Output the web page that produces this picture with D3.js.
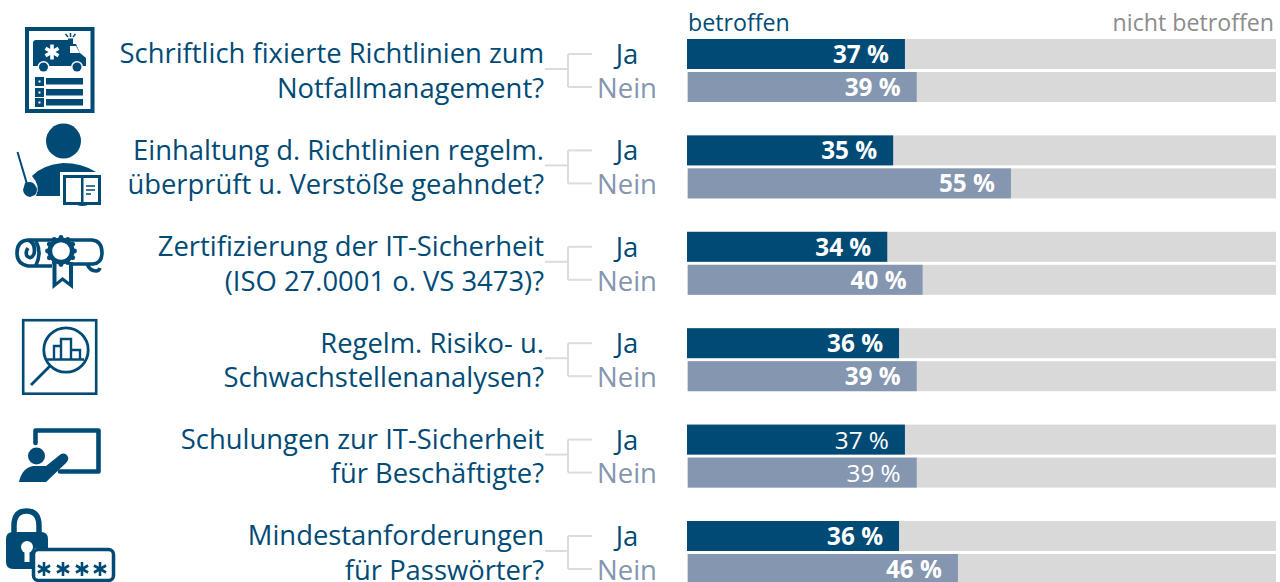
<!DOCTYPE html>
<html><head><meta charset="utf-8">
<script src="https://cdn.jsdelivr.net/npm/d3@7"></script>
<style>html,body{margin:0;padding:0;background:#fff;overflow:hidden}svg{display:block}text{font-family:"Open Sans",sans-serif}</style>
</head><body><svg id="c" width="1280" height="582"></svg>
<script>
const questions = [
  ["Schriftlich fixierte Richtlinien zum","Notfallmanagement?"],
  ["Einhaltung d. Richtlinien regelm.","überprüft u. Verstöße geahndet?"],
  ["Zertifizierung der IT-Sicherheit","(ISO 27.0001 o. VS 3473)?"],
  ["Regelm. Risiko- u.","Schwachstellenanalysen?"],
  ["Schulungen zur IT-Sicherheit","für Beschäftigte?"],
  ["Mindestanforderungen","für Passwörter?"]
];
const answers = ["Ja","Nein"];
const jaValues = [37,35,34,36,37,36];
const neinValues = [39,55,40,39,39,46];
const boldLabels = [true,true,true,true,false,true];
const legendLabels = ["betroffen","nicht betroffen"];

const DARK="#004b76", MID="#8496b0", GREY="#d9d9d9", LINE="#dcdcdc";
const svg=d3.select("#c");
const x=d3.scaleLinear().domain([0,100]).range([687,1276]);
const band=d3.scaleBand().domain(d3.range(questions.length)).range([39,39+96.4*6]);
const rowH=30, nGap=33;

svg.append("text").attr("x",688).attr("y",30.5).attr("font-size",23.2).attr("fill",DARK).text(legendLabels[0]);
svg.append("text").attr("x",1274).attr("y",30.5).attr("text-anchor","end").attr("font-size",23.2).attr("fill","#8c8c8c").text(legendLabels[1]);

questions.forEach((q,i)=>{
  const y0=band(i);
  const g=svg.append("g");
  q.forEach((t,k)=>g.append("text").attr("x",544).attr("y",y0+24.4+k*34.3).attr("text-anchor","end").attr("font-size",27.4).attr("fill",DARK).text(t));
  const ln=[[545,y0+30,568,y0+30],[568,y0+15,568,y0+48],[568,y0+15,592,y0+15],[568,y0+48,592,y0+48]];
  ln.forEach(l=>g.append("line").attr("x1",l[0]).attr("y1",l[1]).attr("x2",l[2]).attr("y2",l[3]).attr("stroke",LINE).attr("stroke-width",2));
  g.append("text").attr("x",627).attr("y",y0+24.9).attr("text-anchor","middle").attr("font-size",27.5).attr("fill",DARK).text(answers[0]);
  g.append("text").attr("x",627).attr("y",y0+58.8).attr("text-anchor","middle").attr("font-size",27.5).attr("fill",MID).text(answers[1]);
  [[jaValues[i],DARK,y0],[neinValues[i],MID,y0+nGap]].forEach(([v,c,y])=>{
    g.append("rect").attr("x",x(0)).attr("y",y).attr("width",x(100)-x(0)).attr("height",rowH).attr("fill",GREY);
    g.append("rect").attr("x",x(0)+(c===MID?1:0)).attr("y",y).attr("width",x(v)-x(0)-(c===MID?1:0)).attr("height",rowH).attr("fill",c);
    g.append("text").attr("x",x(v)-16).attr("y",y+24).attr("text-anchor","end").attr("font-size",24.3)
      .attr("font-weight",boldLabels[i]?700:400).attr("fill","#fff").text(v+" %");
  });
});

// icons (decorative pictograms)
const ic=svg.append("g");
const P=(d,extra={})=>{const p=ic.append("path").attr("d",d).attr("fill",DARK);for(const k in extra)p.attr(k,extra[k]);return p;};
const S=(d,w,cap="butt")=>ic.append("path").attr("d",d).attr("fill","none").attr("stroke",DARK).attr("stroke-width",w).attr("stroke-linecap",cap).attr("stroke-linejoin",cap==="round"?"round":"miter");
const R=(a,b,w,h,f=DARK)=>ic.append("rect").attr("x",a).attr("y",b).attr("width",w).attr("height",h).attr("fill",f);
const C=(a,b,r,f=DARK)=>ic.append("circle").attr("cx",a).attr("cy",b).attr("r",r).attr("fill",f);
const star=(cx,cy,r,w,col)=>d3.range(3).forEach(k=>{const a=k*Math.PI/3+Math.PI/2;
  ic.append("line").attr("x1",cx-r*Math.cos(a)).attr("y1",cy-r*Math.sin(a)).attr("x2",cx+r*Math.cos(a)).attr("y2",cy+r*Math.sin(a)).attr("stroke",col).attr("stroke-width",w);});
// 1 document + ambulance
ic.append("rect").attr("x",27).attr("y",29).attr("width",65.5).attr("height",82).attr("fill","none").attr("stroke",DARK).attr("stroke-width",4);
P("M33 43Q33 40 36 40H68V44H76L80 53L86 58V66H33Z");
P("M70 46H76L80 53H70Z",{fill:"#fff"});
R(68,38.5,5,6);
C(43.5,67,6,"#fff");C(43.5,67,4.5);C(77,67,6,"#fff");C(77,67,4.5);
star(52,52,7.5,3.6,"#fff");
S("M65.5 34L68 37M70.5 33V37M75.5 34L73 37",1.5);
[77,88,98].forEach(y=>{R(35,y,9,9);R(38.5,y+3.5,2,2,"#fff");R(46,y+1,37,6.5);});
// 2 person with pointer and book
C(63.5,141,17.5);
P("M32 176Q42 165 63 163Q82 163 96 172H60V196H36Q41 186 32 176Z");
S("M17.5 152L27 184",2);
P("M25 183Q32 180 35 185Q39 190 35 195L30 197Q24 196 23 190Z");
ic.append("rect").attr("x",64.5).attr("y",176.5).attr("width",35).attr("height",27).attr("fill","#fff").attr("stroke",DARK).attr("stroke-width",3);
R(81,176,2.5,28);
S("M86 186H95M86 190H95M86 194H91",1.6);
P("M77 203H88V205Q82 207 77 205Z");
// 3 scroll with rosette
S("M28 240H92Q102 241 102 253Q102 263 93 264H73M87 264Q90 271 96 271Q99 271 100 268M52 266H28Q17 264 17 253Q17 241 28 240Q36 243 34 254Q31 260 27 256Q25 252 28 248M36 241Q42 253 36 265",3.6);
P("M52.5 262H73V289L62.5 281L52.5 289Z");
P("M56.5 262H69V282L62.5 277L56.5 282Z",{fill:"#fff"});
C(61,251,13.5);
d3.range(12).forEach(k=>{const a=k*Math.PI/6;C(61+13.5*Math.cos(a),251+13.5*Math.sin(a),2.4);});
C(61,251,8.8,"#fff");
// 4 analysis
ic.append("rect").attr("x",23.2).attr("y",320.2).attr("width",73).attr("height",73.5).attr("fill","none").attr("stroke",DARK).attr("stroke-width",2.6);
ic.append("circle").attr("cx",66).attr("cy",350).attr("r",22.2).attr("fill","none").attr("stroke",DARK).attr("stroke-width",2.8);
S("M47 359.5H84",2.6);
S("M54 359V346H61V359M61 359V339H71V359M71 359V350H80V359",2.4);
S("M50 366L31 385",2.8);
// 5 presenter at board
S("M35.5 443V430.5H98.5V471.5H60",4.6,"round");
C(36.5,456,8.5);
P("M19 482Q22 468 33 466H46L61 454Q66 452 68 457Q69 460 66 463L46 482Z");
// 6 lock + password
S("M14 536V526Q14 511 26.5 511Q39 511 39 526V536",5.5);
P("M13 532H41Q48 532 48 539V548H38Q33 548 33 553V569H13Q6 569 6 562V539Q6 532 13 532Z");
C(27,547,6,"#fff");R(24.5,548,5,14,"#fff");
ic.append("rect").attr("x",33.5).attr("y",549.5).attr("width",80).attr("height",31).attr("rx",5).attr("fill","#fff").attr("stroke",DARK).attr("stroke-width",3.5);
[44,63,82,100].forEach(a=>star(a,569,7,2.6,DARK));
</script></body></html>
